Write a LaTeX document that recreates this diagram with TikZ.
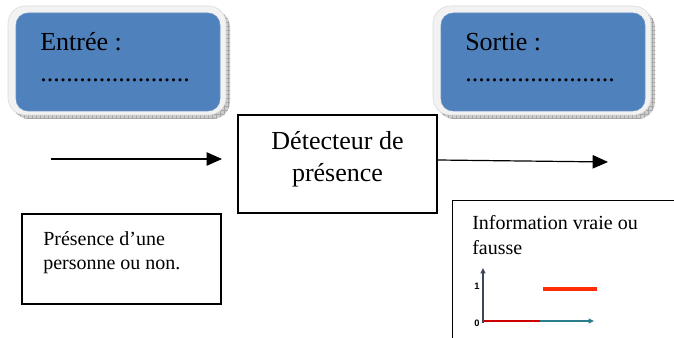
\documentclass[tikz,border=0pt]{standalone}
\usepackage{fontspec}
\setmainfont{Liberation Serif}
\newfontfamily\axisfont{Liberation Sans}
\usetikzlibrary{arrows.meta,patterns}

\definecolor{panelblue}{RGB}{79,129,189}
\definecolor{framegray}{RGB}{242,242,242}
\definecolor{axisgray}{RGB}{60,70,90}

\tikzset{
	shadowbox/.style={fill=gray!40, rounded corners=13pt},
	framebox/.style={fill=framegray, draw=gray!30, rounded corners=13pt},
	bluebox/.style={fill=panelblue, draw=panelblue!85!white, rounded corners=9pt,
		minimum width=153pt, minimum height=73.5pt, inner sep=0pt},
	bigtext/.style={font=\fontsize{19.5}{24}\selectfont, inner sep=0pt},
	smalltext/.style={font=\fontsize{15}{18}\selectfont, inner sep=0pt},
	plainbox/.style={draw, line width=1.1pt, inner sep=0pt},
	link/.style={line width=0.9pt, -{Triangle[length=11.5pt,width=10pt]}},
	axis/.style={axisgray, line width=1pt, -{Triangle[length=4pt,width=3.5pt]}},
	ticklabel/.style={font=\axisfont\bfseries\fontsize{7}{7}\selectfont, inner sep=0pt}
}

\begin{document}
\begin{tikzpicture}[x=0.75pt,y=-0.75pt]
	\useasboundingbox (0,0) rectangle (674,338);
	\clip (0,0) rectangle (674,338);

	% blue panels
	\fill [shadowbox] (12,10) rectangle (230,119);
	\fill [pattern=grid, pattern color=gray!70, rounded corners=13pt] (12,10) rectangle (230,119);
	\filldraw [framebox] (8,6) rectangle (226,115);
	\node [bluebox] (entree) at (118,62) {};
	\node [bigtext, anchor=base west] (entreeLabel) at (40,51) {Entrée :};
	\node [bigtext, anchor=base west] (entreeDots) at (40,82) {.......................};

	\fill [shadowbox] (437,10) rectangle (655,119);
	\fill [pattern=grid, pattern color=gray!70, rounded corners=13pt] (437,10) rectangle (655,119);
	\filldraw [framebox] (433,6) rectangle (651,115);
	\node [bluebox] (sortie) at (543,62) {};
	\node [bigtext, anchor=base west] (sortieLabel) at (465,51) {Sortie :};
	\node [bigtext, anchor=base west] (sortieDots) at (465,82) {.......................};

	% detector
	\node [plainbox, minimum width=149.25pt, minimum height=73.5pt] (detecteur) at (337.5,164) {};
	\node [bigtext, anchor=base] (detecteurA) at (337.5,150) {Détecteur de};
	\node [bigtext, anchor=base] (detecteurB) at (337.5,182) {présence};

	\coordinate (inStart) at (51,159);
	\coordinate (inEnd) at (222,159);
	\coordinate (outEnd) at (608,162);
	\draw [link] (inStart) -- (inEnd);
	\draw [link] (detecteur.east |- 0,160) -- (outEnd);

	% input text
	\node [plainbox, minimum width=149.25pt, minimum height=67.5pt] (presence) at (121.5,259) {};
	\node [smalltext, anchor=base west] (presenceA) at (43,245) {Présence d’une};
	\node [smalltext, anchor=base west] (presenceB) at (43,269) {personne ou non.};

	% output text and chart
	\node [plainbox, anchor=north west, minimum width=220pt, minimum height=150pt] (info) at (452,200) {};
	\node [smalltext, anchor=base west] (infoA) at (472,230) {Information vraie ou};
	\node [smalltext, anchor=base west] (infoB) at (472,254) {fausse};

	\draw [axis] (483,323) -- (483,268);
	\draw [axis, color=axisgray!70!cyan] (483,321) -- (594,321);
	\draw [red!80!black, line width=2.2pt] (483,321) -- (540,321);
	\draw [red!65!orange, line width=2.6pt] (543,289) -- (597,289);
	\node [ticklabel] (one) at (477,286) {1};
	\node [ticklabel] (zero) at (477,323) {0};
\end{tikzpicture}
\end{document}
